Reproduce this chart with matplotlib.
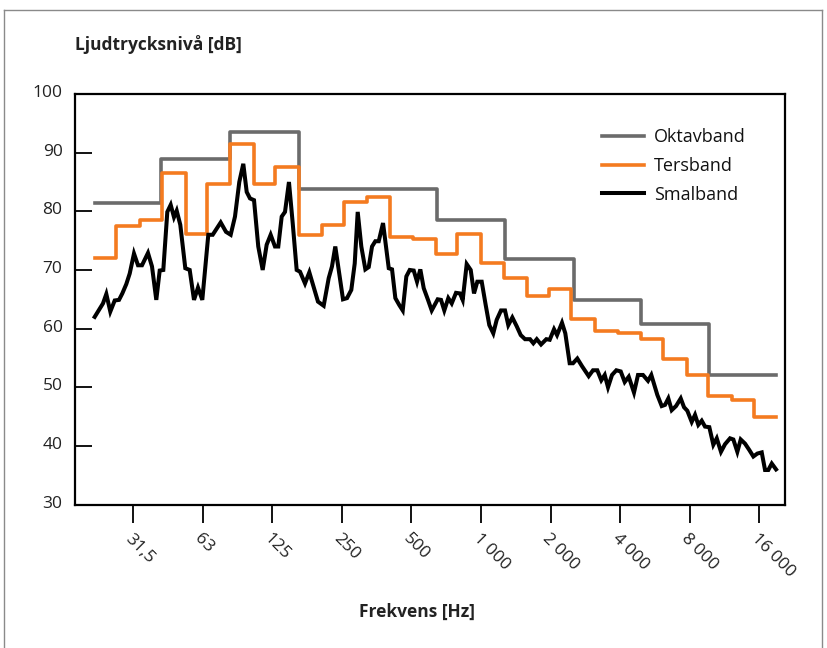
import matplotlib
matplotlib.use("Agg")
import matplotlib.pyplot as plt
from matplotlib.lines import Line2D
from matplotlib.transforms import ScaledTranslation

# ---------------- data ----------------
# Octave band (step line): band edges in Hz and level per band in dB
oct_edges = [21.3, 41.5, 82.1, 163, 324, 642, 1270, 2525, 4920, 9640, 18880]
oct_levels = [81.5, 89.0, 93.5, 83.8, 83.8, 78.5, 71.9, 64.9, 60.8, 52.1]

# Third-octave band (step line)
ter_edges = [21.3, 26.5, 33.4, 41.6, 52.8, 65.3, 82.1, 104, 129, 163,
             205, 256, 322, 405, 509, 636, 790, 997, 1254, 1577,
             1968, 2457, 3103, 3912, 4911, 6144, 7755, 9619, 12140, 15130,
             18880]
ter_levels = [72.0, 77.5, 78.5, 86.5, 76.1, 84.7, 91.5, 84.7, 87.5, 76.0,
              77.7, 81.6, 82.4, 75.6, 75.2, 72.7, 76.1, 71.2, 68.6, 65.5,
              66.7, 61.6, 59.6, 59.3, 58.3, 54.9, 52.1, 48.5, 47.8, 44.9]

# Narrow band (line)
small_freq = [21.34, 23.18, 23.96, 24.93, 26.05, 27.19, 28.10, 29.24, 30.25, 31.56,
              32.85, 34.18, 36.28, 37.76, 39.41, 40.77, 42.26, 43.98, 45.49, 47.01,
              48.29, 50.05, 52.61, 54.97, 57.37, 59.70, 62.31,
              66.15, 69.11, 74.84, 78.90, 82.67, 86.29, 90.07, 93.73, 96.97, 100.2,
              104.3, 108.8, 113.7, 118.3, 123.1, 128.5, 132.8, 137.4, 142.0, 147.7,
              153.3, 159.5, 164.9, 173.3, 180.9,
              197.2, 208.7, 219.4, 226.7, 234.3, 242.4, 253.0, 263.3, 274.8, 284.3,
              292.9, 303.6, 316.1, 326.9, 337.8, 349.1, 361.1, 376.9, 388.4, 399.0,
              412.3, 426.1, 443.4, 458.6, 475.4, 491.7, 511.7, 528.8, 546.4, 565.2,
              589.9,
              612.0, 649.7, 671.4, 693.8, 722.0, 746.9, 779.5, 811.2, 833.3, 867.2,
              902.5, 932.6, 963.9, 1007, 1048, 1086, 1130, 1169, 1220, 1270,
              1312, 1366, 1427, 1485, 1550, 1629, 1684, 1742, 1818,
              1916, 1982, 2069, 2132, 2240, 2315, 2418, 2500, 2609, 2734,
              2922, 3050, 3184, 3313, 3428, 3542, 3686, 3848, 4020, 4183,
              4354, 4588, 4775, 5018, 5275, 5452,
              5788, 6047, 6249, 6458, 6680, 6973, 7307, 7551, 7803, 8152,
              8424, 8706, 9006, 9308, 9714, 10110, 10460, 10910, 11360, 11940,
              12340, 12840, 13280, 13860, 14470, 15060, 15670, 16370, 16920, 17480,
              18090, 18880]
small_level = [62.0, 64.3, 65.9, 62.9, 64.8, 64.9, 66.0, 67.6, 69.4, 72.8,
               70.8, 70.8, 72.9, 70.6, 64.9, 69.9, 70.0, 79.9, 81.1, 79.0,
               80.1, 77.7, 70.3, 70.0, 64.9, 67.0, 64.9,
               76.0, 76.0, 78.1, 76.5, 76.0, 79.1, 85.0, 88.1, 83.3, 82.2,
               81.9, 74.0, 70.0, 74.3, 76.0, 74.0, 74.0, 79.1, 79.9, 85.0,
               78.0, 70.0, 69.7, 67.7, 69.6,
               64.6, 63.9, 68.6, 70.6, 74.0, 70.0, 65.0, 65.2, 66.6, 71.1,
               79.9, 74.0, 70.1, 70.5, 74.0, 74.9, 74.9, 78.0, 74.0, 70.3,
               70.1, 65.2, 64.0, 63.1, 68.9, 70.0, 69.9, 68.0, 70.1, 66.9,
               64.9,
               63.1, 65.0, 64.9, 63.1, 65.2, 64.3, 66.1, 66.0, 64.9, 71.0,
               70.0, 66.0, 68.0, 68.0, 64.0, 60.6, 59.2, 61.5, 63.1, 63.1,
               60.6, 61.9, 60.4, 58.9, 58.2, 58.2, 57.5, 58.2, 57.3,
               58.2, 58.1, 59.9, 58.9, 61.0, 59.2, 54.1, 54.1, 54.9, 53.6,
               51.9, 52.9, 52.9, 51.2, 52.1, 50.0, 52.1, 52.9, 52.7, 50.9,
               51.8, 49.1, 52.1, 52.1, 51.1, 52.1,
               48.7, 46.8, 47.0, 48.1, 46.1, 46.8, 48.1, 46.6, 46.0, 44.1,
               45.3, 43.6, 44.3, 43.3, 43.2, 40.2, 41.3, 39.0, 40.3, 41.3,
               41.1, 39.0, 41.1, 40.4, 39.3, 38.2, 38.7, 38.9, 35.9, 35.9,
               37.0, 36.0]

tick_freqs = [31.25, 62.5, 125, 250, 500, 1000, 2000, 4000, 8000, 16000]
tick_labels = ["31,5", "63", "125", "250", "500", "1 000", "2 000", "4 000", "8 000", "16 000"]
y_ticks = [30, 40, 50, 60, 70, 80, 90, 100]

series_names = ["Oktavband", "Tersband", "Smalband"]
title_text = "Ljudtrycksnivå [dB]"
xlabel_text = "Frekvens [Hz]"

# ---------------- style ----------------
plt.rcParams["font.family"] = ["Open Sans", "DejaVu Sans"]
W, H = 827, 648
fig = plt.figure(figsize=(W / 100, H / 100), dpi=100)
ax = fig.add_axes([75 / W, 1 - 504.6 / H, (785 - 75) / W, (504.6 - 94) / H])

c_gray = "#6b6b6b"
c_orange = "#f47b20"
c_black = "#000000"

ax.plot(oct_edges, oct_levels + [oct_levels[-1]], drawstyle="steps-post",
        color=c_gray, lw=2.6, label=series_names[0])
ax.plot(ter_edges, ter_levels + [ter_levels[-1]], drawstyle="steps-post",
        color=c_orange, lw=2.6, label=series_names[1])
ax.plot(small_freq, small_level, color=c_black, lw=2.9, label=series_names[2],
        solid_joinstyle="miter")

ax.set_xscale("log", base=2)
ax.set_xlim(17.54, 20640)
ax.set_ylim(30, 100)
ax.minorticks_off()
ax.set_xticks(tick_freqs)
ax.set_xticklabels(tick_labels, rotation=-45, ha="left", va="top",
                   rotation_mode="anchor", fontsize=12.5, color="#222222")
ax.set_yticks(y_ticks)
ax.set_yticklabels([str(v) for v in y_ticks], fontsize=12.5, color="#222222")
ax.tick_params(axis="x", direction="out", length=13, width=1.3, pad=6)
ax.tick_params(axis="y", direction="in", length=12.5, width=1.3, pad=9)
for lab in ax.get_yticklabels():
    lab.set_transform(lab.get_transform() + ScaledTranslation(0, 3 / 100, fig.dpi_scale_trans))
for s in ax.spines.values():
    s.set_linewidth(1.6)
    s.set_color("black")

leg = ax.legend(loc="upper left", bbox_to_anchor=(602 / W, 1 - 128 / H),
                bbox_transform=fig.transFigure, frameon=False, fontsize=13,
                handlelength=2.35, handletextpad=0.55, labelspacing=0.6,
                borderpad=0, borderaxespad=0)
for t in leg.get_texts():
    t.set_color("#111111")

fig.text(75 / W, 1 - 45 / H, title_text, fontsize=12.5, fontweight="bold",
         ha="left", va="center", color="#222222")
fig.text(417 / W, 1 - 612 / H, xlabel_text, fontsize=12.5, fontweight="bold",
         ha="center", va="center", color="#222222")

# thin outer frame
bc = "#8a8a8a"
fig.add_artist(Line2D([4 / W, 822 / W], [1 - 10 / H, 1 - 10 / H], transform=fig.transFigure, color=bc, lw=1))
fig.add_artist(Line2D([4 / W, 4 / W], [0, 1 - 10 / H], transform=fig.transFigure, color=bc, lw=1))
fig.add_artist(Line2D([822 / W, 822 / W], [0, 1 - 10 / H], transform=fig.transFigure, color=bc, lw=1))

fig.savefig("out.png", dpi=100)
